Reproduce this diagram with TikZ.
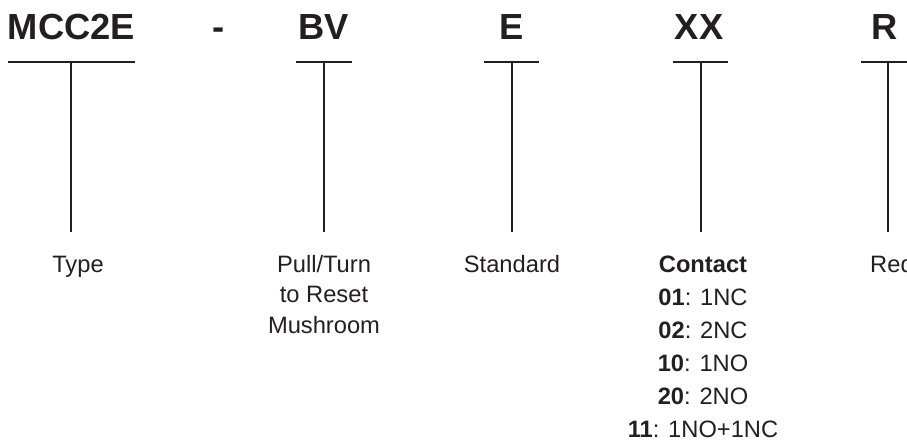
\documentclass[tikz,border=0pt]{standalone}
\usepackage{fontspec}
\setmainfont{Liberation Sans}
\definecolor{ink}{HTML}{231F20}
\begin{document}
\begin{tikzpicture}[x=1pt,y=-1pt,
  title/.style={anchor=base,inner sep=0pt,font=\fontsize{36.3}{40}\selectfont\bfseries,text=ink},
  lbl/.style={anchor=base,inner sep=0pt,font=\fontsize{23.7}{28}\selectfont,text=ink},
  bar/.style={draw=ink,line width=2pt}]
\useasboundingbox (0,0) rectangle (907,441);
\clip (0,0) rectangle (907,441);
% titles
\node[title] (t1) at (71.5,40) {MCC2E};
\node[title] (t2) at (219,40) {-};
\node[title] (t3) at (324,40) {BV};
\node[title] (t4) at (512,40) {E};
\node[title] (t5) at (699,40) {XX};
\node[title] (t6) at (885,40) {R};
% bars
\coordinate (aL) at (8,62);   \coordinate (aR) at (135,62);
\coordinate (aT) at (71,62);  \coordinate (aB) at (71,232);
\coordinate (bL) at (296,62); \coordinate (bR) at (352,62);
\coordinate (bT) at (324,62); \coordinate (bB) at (324,232);
\coordinate (cL) at (484,62); \coordinate (cR) at (539,62);
\coordinate (cT) at (512,62); \coordinate (cB) at (512,232);
\coordinate (dL) at (673,62); \coordinate (dR) at (728,62);
\coordinate (dT) at (701,62); \coordinate (dB) at (701,232);
\coordinate (eL) at (861,62); \coordinate (eR) at (916,62);
\coordinate (eT) at (888,62); \coordinate (eB) at (888,232);
\foreach \k in {a,b,c,d,e}{
  \draw[bar] (\k L) -- (\k R);
  \draw[bar] (\k T) -- (\k B);
}
% labels
\node[lbl] (type) at (78,272) {Type};
\node[lbl] (p1) at (324,272) {Pull/Turn};
\node[lbl] (p2) at (324,302.5) {to Reset};
\node[lbl] (p3) at (324,333) {Mushroom};
\node[lbl] (std) at (512,272) {Standard};
\node[lbl] (c0) at (703,272) {\textbf{Contact}};
\node[lbl] (c1) at (703,305) {\textbf{01}: 1NC};
\node[lbl] (c2) at (703,338) {\textbf{02}: 2NC};
\node[lbl] (c3) at (703,371.5) {\textbf{10}: 1NO};
\node[lbl] (c4) at (703,404.5) {\textbf{20}: 2NO};
\node[lbl] (c5) at (703,437) {\textbf{11}: 1NO+1NC};
\node[lbl,anchor=base west] (red) at (870,272) {Red};
\end{tikzpicture}
\end{document}
